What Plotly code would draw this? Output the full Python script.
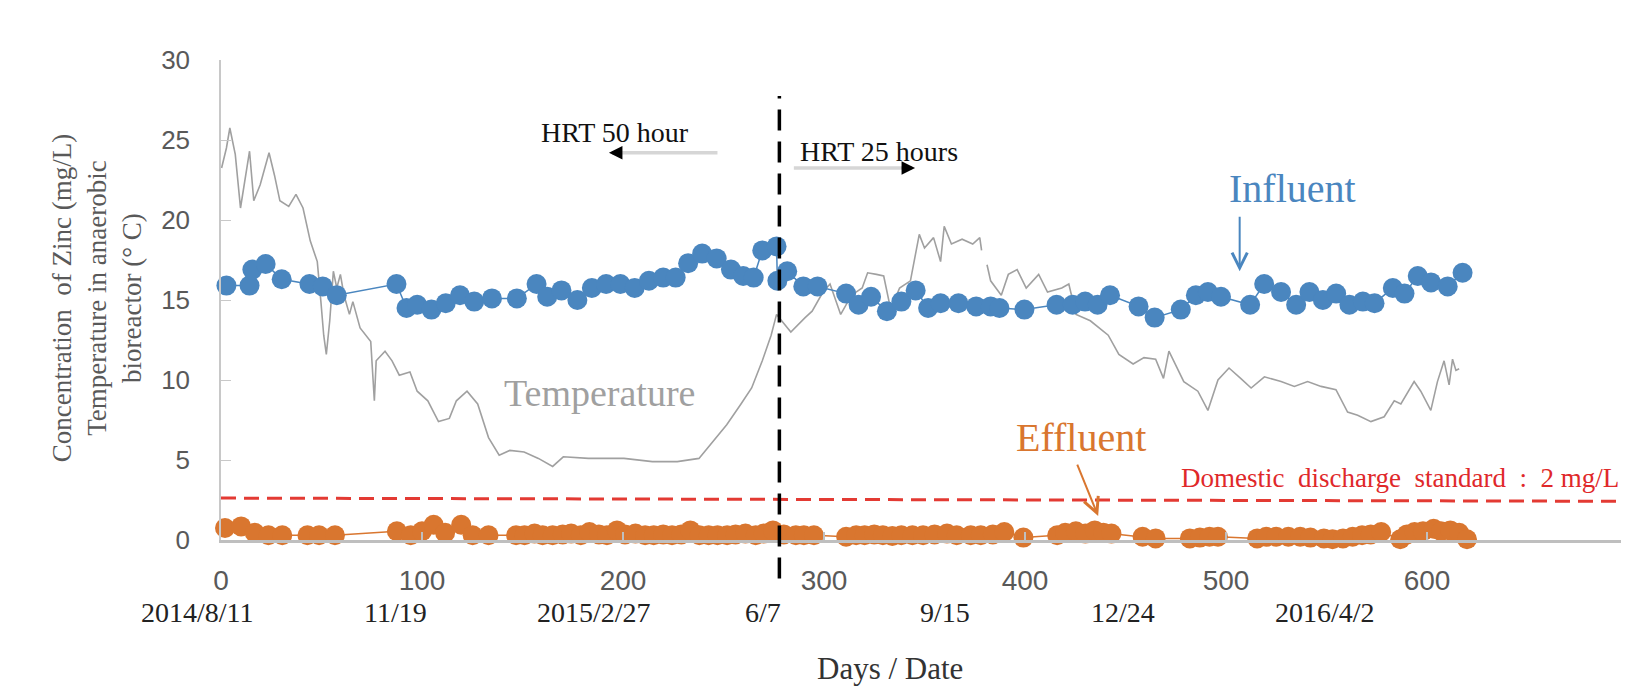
import plotly.graph_objects as go

# ---------------- data ----------------
influent_day = [2.7, 14.2, 15.6, 22.2, 30.2, 44, 50.6, 57.6, 87.3, 92.3, 97.6, 104.7, 111.8, 118.9,
                126, 134.8, 147.2, 157, 162.3, 169.4, 177.3, 184.5, 191.6, 198.7, 205.8, 212.9,
                220, 226.2, 232.4, 239.4, 246.6, 253.7, 259.8, 265, 269.3, 276.4, 276.8, 281.7,
                289.7, 296.8, 311, 317.2, 323.4, 331.3, 338.5, 345.6, 351.8, 358, 366.9, 375.7,
                382.9, 387.3, 399.7, 415.7, 423.7, 429.9, 436.1, 442.3, 456.5, 464.5, 477.5, 485,
                491, 497.5, 512, 519, 527.4, 534.9, 541.5, 548.2, 554.8, 561.4, 568.1, 573.9, 583,
                588.8, 595.4, 602, 610.3, 617.7]
influent_zn = [15.9, 15.9, 16.9, 17.25, 16.3, 16.0, 15.85, 15.3, 16.0, 14.5, 14.7, 14.4, 14.8, 15.3,
               14.9, 15.1, 15.1, 16.0, 15.2, 15.6, 15.0, 15.75, 16.0, 16.0, 15.75, 16.2,
               16.4, 16.4, 17.3, 17.9, 17.6, 16.9, 16.5, 16.4, 18.1, 18.35, 16.2, 16.8,
               15.85, 15.85, 15.4, 14.7, 15.2, 14.3, 14.9, 15.6, 14.5, 14.8, 14.8, 14.6,
               14.6, 14.5, 14.4, 14.7, 14.7, 14.9, 14.7, 15.3, 14.6, 13.9, 14.4, 15.3,
               15.5, 15.2, 14.7, 16.0, 15.5, 14.7, 15.5, 15.0, 15.4, 14.7, 14.9, 14.8, 15.75,
               15.4, 16.5, 16.1, 15.85, 16.7]

effluent_day = [2, 10, 16.8, 23.6, 30.5, 43, 48.8, 56.7, 87.5, 94.4, 100, 105.8, 111.5, 119.5, 125.2,
                133.1, 146.8, 151, 156, 160, 165, 170, 174.2, 179, 183.3, 188, 192, 197, 201, 206.2,
                211, 215.3, 220, 224.4, 229, 233.5, 238, 242.6, 247, 251.8, 256, 260.9, 266, 270,
                274.6, 280, 286, 290, 295, 311, 316, 320.2, 325, 329.3, 334, 338.5, 344, 349.3,
                355, 361.2, 366, 373, 378, 384, 389.7, 399.2, 416, 420, 425.3, 430, 434.7, 439,
                443, 458.5, 465, 482, 487, 491.8, 496, 515.5, 520, 525, 531, 536.9, 542, 548.7,
                553, 558.2, 563, 567.7, 572, 577.2, 586.7, 590, 593.8, 598, 603.3, 607, 611.6,
                616, 619.9]
effluent_zn = [0.75, 0.85, 0.45, 0.3, 0.3, 0.3, 0.3, 0.3, 0.55, 0.3, 0.55, 0.95, 0.45, 0.95, 0.3,
               0.3, 0.3, 0.3, 0.4, 0.3, 0.3, 0.35, 0.4, 0.3, 0.5, 0.35, 0.3, 0.6, 0.35, 0.4,
               0.3, 0.3, 0.35, 0.3, 0.35, 0.6, 0.3, 0.3, 0.3, 0.3, 0.35, 0.4, 0.3, 0.4,
               0.6, 0.35, 0.3, 0.3, 0.3, 0.2, 0.3, 0.3, 0.35, 0.3, 0.25, 0.3, 0.3, 0.3,
               0.35, 0.4, 0.3, 0.3, 0.3, 0.35, 0.5, 0.15, 0.3, 0.45, 0.55, 0.4, 0.6, 0.45,
               0.4, 0.2, 0.1, 0.1, 0.15, 0.2, 0.2, 0.1, 0.2, 0.2, 0.2, 0.2, 0.15, 0.1,
               0.05, 0.1, 0.2, 0.3, 0.35, 0.5, 0.05, 0.35, 0.5, 0.55, 0.7, 0.55, 0.6,
               0.45, 0.05]

temp_day = [0.3, 2.7, 4.4, 7.1, 9.7, 12.4, 14.2, 16.3, 19.5, 23.9, 26.6, 29.3, 33.7, 37.3, 40.8,
            44.4, 47.9, 49.7, 51.1, 52.4, 54.1, 55.9, 57.6, 59.4, 61.2, 63.9, 65.6, 69.2, 74.5,
            76.3, 77.2, 81.6, 85.1, 88.7, 94, 97.6, 102.9, 108.2, 113.6, 117.1, 122.4, 127.7,
            133.1, 138.4, 143.7, 150.8, 157.9, 165, 170.3, 182.8, 200.5, 214.6, 227, 237.8,
            244.9, 251.6, 258.7, 264, 269.3, 273.7, 276.4, 283.5, 290.6, 294.1, 299.5, 303,
            308.3, 313.7, 319, 321.7, 326.1, 329.7, 333.2, 337.6, 343, 347.4, 350, 354.5, 358,
            359.8, 363.4, 368.7, 374, 377.5, 378.4, None, 381.1, 382.9, 388.2, 391.7, 396.1,
            400.6, 406.8, 411.2, 418.3, 421.8, 425.4, 432.5, 441.4, 446.7, 453.8, 459.2, 465,
            468.9, 471.6, 479, 486, 491, 496, 501.5, 507.3, 512.5, 519.1, 527.4, 534, 540.6,
            547.3, 554.7, 560.5, 565.5, 572.1, 578.7, 583.7, 587, 593.6, 596.9, 601.9, 605.2,
            608.5, 611, 612.7, 614.4, 616]
temp_c = [23.25, 24.5, 25.75, 24.1, 20.75, 22.8, 24.3, 21.2, 22.2, 24.2, 22.8, 21.2, 20.85, 21.6,
          20.75, 18.7, 17.4, 14.9, 12.8, 11.6, 13.7, 16.8, 15.75, 16.6, 15.3, 14.1, 14.9, 13.25,
          12.4, 8.7, 11.2, 11.8, 11.2, 10.3, 10.5, 9.3, 8.7, 7.4, 7.6, 8.7, 9.3, 8.5,
          6.4, 5.3, 5.6, 5.5, 5.1, 4.6, 5.2, 5.1, 5.1, 4.9, 4.9, 5.1,
          6.2, 7.2, 8.5, 9.5, 11.2, 12.8, 14.1, 13.0, 13.9, 14.3, 15.5, 16.0,
          14.1, 15.3, 15.75, 16.7, 16.6, 16.5, 14.4, 15.75, 16.2, 19.1, 18.25, 18.9, 17.4,
          19.6, 18.5, 18.8, 18.5, 18.9, 18.1, None, 17.2, 16.2, 15.3, 16.6, 16.9,
          15.75, 16.6, 15.5, 15.75, 16.0, 14.1, 13.7, 12.8, 11.6, 11.0, 11.4, 11.3,
          10.1, 11.8, 9.9, 9.3, 8.1, 10.0, 10.75, 10.1, 9.5, 10.2, 9.9, 9.6, 9.9,
          9.6, 9.4, 8.0, 7.8, 7.4, 7.7, 8.7, 8.5, 9.9, 9.3, 8.1, 9.9,
          11.2, 9.7, 11.3, 10.6, 10.7]

x_ticks = [0, 100, 200, 300, 400, 500, 600, 700]
y_ticks = [0, 5, 10, 15, 20, 25, 30]
date_labels = ["2014/8/11", "11/19", "2015/2/27", "6/7", "9/15", "12/24", "2016/4/2"]
hrt_change_day = 277.8
standard_line_days = [0, 696]
standard_line_vals = [2.62, 2.42]

# ---------------- layout helpers ----------------
date_label_paper_x = [-0.0164, 0.1240, 0.2654, 0.3852, 0.5149, 0.6411, 0.7846]

BLUE = "#4A86BF"
ORANGE = "#D9762F"
GRAY = "#A0A0A0"
TXT = "#595959"
SERIF = "Liberation Serif, Times New Roman, serif"
SANS = "Liberation Sans, Arial, sans-serif"

fig = go.Figure()

fig.add_trace(go.Scatter(x=temp_day, y=temp_c, mode="lines",
                         line=dict(color=GRAY, width=1.6), connectgaps=False,
                         hoverinfo="skip", showlegend=False))
fig.add_trace(go.Scatter(x=influent_day, y=influent_zn, mode="lines+markers",
                         line=dict(color=BLUE, width=1.5),
                         marker=dict(color=BLUE, size=20, line=dict(width=0)),
                         cliponaxis=False, showlegend=False))
fig.add_trace(go.Scatter(x=effluent_day, y=effluent_zn, mode="lines+markers",
                         line=dict(color=ORANGE, width=1.5),
                         marker=dict(color=ORANGE, size=20, line=dict(width=0)),
                         cliponaxis=False, showlegend=False))

shapes = [
    # HRT change line
    dict(type="line", xref="x", yref="paper", x0=hrt_change_day, x1=hrt_change_day,
         y0=-0.08, y1=0.925, line=dict(color="black", width=3.5, dash="21px,11px"), layer="above"),
    # discharge standard
    dict(type="line", xref="x", yref="y", x0=standard_line_days[0], x1=standard_line_days[1],
         y0=standard_line_vals[0], y1=standard_line_vals[1],
         line=dict(color="#E33A33", width=3, dash="15px,8px"), layer="below"),
    # HRT arrows shafts
    dict(type="line", xref="x", yref="y", x0=247, x1=197, y0=24.2, y1=24.2,
         line=dict(color="#D6D6D6", width=3.5)),
    dict(type="line", xref="x", yref="y", x0=285, x1=341, y0=23.25, y1=23.25,
         line=dict(color="#D6D6D6", width=3.5)),
]

annotations = [
    dict(text="Concentration\u00a0 of Zinc (mg/L)<br>Temperature in anaerobic<br>bioreactor (\u00b0 C)",
         xref="paper", yref="paper", x=-0.088, y=0.504, textangle=-90, showarrow=False,
         xanchor="center", yanchor="middle", align="center",
         font=dict(family=SERIF, size=27, color=TXT)),
    dict(text="Days / Date", xref="paper", yref="paper", x=0.4755, y=-0.2667, showarrow=False,
         xanchor="center", yanchor="middle", font=dict(family=SERIF, size=31, color="#333333")),
    dict(text="HRT 50 hour", xref="x", yref="y", x=196, y=25.5, showarrow=False,
         font=dict(family=SERIF, size=28, color="#111111")),
    dict(text="HRT 25 hours", xref="x", yref="y", x=327.6, y=24.3, showarrow=False,
         font=dict(family=SERIF, size=28, color="#111111")),
    dict(text="", xref="x", yref="y", x=193, y=24.2, axref="x", ayref="y", ax=200, ay=24.2,
         showarrow=True, arrowhead=2, arrowsize=0.9, arrowwidth=3, arrowcolor="black"),
    dict(text="", xref="x", yref="y", x=345.3, y=23.25, axref="x", ayref="y", ax=338, ay=23.25,
         showarrow=True, arrowhead=2, arrowsize=0.9, arrowwidth=3, arrowcolor="black"),
    dict(text="Influent", xref="x", yref="y", x=533.3, y=22.0, showarrow=False,
         font=dict(family=SERIF, size=40, color=BLUE)),
    dict(text="", xref="x", yref="y", x=506.8, y=16.8, axref="x", ayref="y", ax=506.8, ay=20.3,
         showarrow=True, arrowhead=5, arrowsize=1.5, arrowwidth=2, arrowcolor=BLUE),
    dict(text="Effluent", xref="x", yref="y", x=427.9, y=6.4, showarrow=False,
         font=dict(family=SERIF, size=40, color=ORANGE)),
    dict(text="", xref="x", yref="y", x=436.4, y=1.5, axref="x", ayref="y", ax=425.7, ay=4.8,
         showarrow=True, arrowhead=5, arrowsize=1.5, arrowwidth=2, arrowcolor=ORANGE),
    dict(text="Temperature", xref="x", yref="y", x=188.5, y=9.2, showarrow=False,
         font=dict(family=SERIF, size=38, color=GRAY)),
    dict(text="Domestic\u00a0\u00a0discharge\u00a0\u00a0standard\u00a0\u00a0:\u00a0\u00a02 mg/L",
         xref="x", yref="y", x=476.6, y=3.9, xanchor="left", showarrow=False,
         font=dict(family=SERIF, size=27, color="#E0282A")),
]
for lab, px in zip(date_labels, date_label_paper_x):
    annotations.append(dict(text=lab, xref="paper", yref="paper", x=px, y=-0.152,
                            showarrow=False, xanchor="center", yanchor="middle",
                            font=dict(family=SERIF, size=28, color="#222222")))

fig.update_layout(
    width=1629, height=689,
    margin=dict(l=213, r=9, t=52, b=157),
    paper_bgcolor="white", plot_bgcolor="white",
    showlegend=False,
    shapes=shapes, annotations=annotations,
    xaxis=dict(range=[0, 700], tickvals=x_ticks, showgrid=False, zeroline=False,
               showline=True, linecolor="#BFBFBF", linewidth=2.5,
               ticks="inside", ticklen=8, tickcolor="#BFBFBF", tickwidth=1.5,
               tickfont=dict(family=SANS, size=28, color=TXT), ticklabelstandoff=14),
    yaxis=dict(range=[0, 30], tickvals=y_ticks, showgrid=False, zeroline=False,
               showline=True, linecolor="#C8C8C8", linewidth=1.5,
               ticks="inside", ticklen=10, tickcolor="#C8C8C8", tickwidth=1.2,
               tickfont=dict(family=SANS, size=26, color=TXT), ticklabelstandoff=24),
)

fig.write_html("out.html")
